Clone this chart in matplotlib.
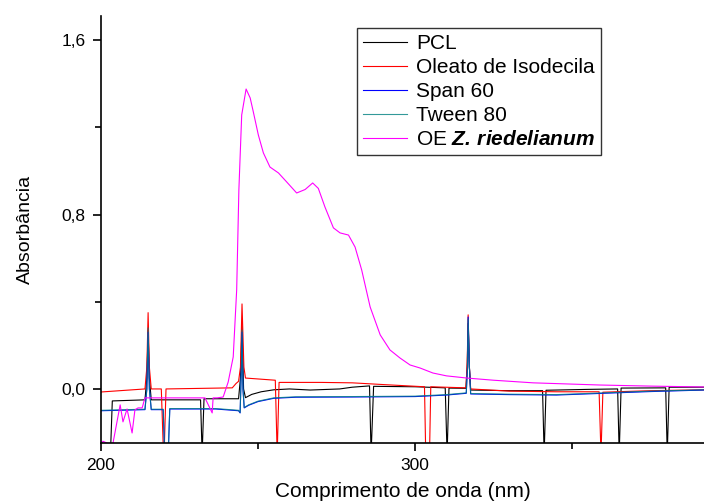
import matplotlib
matplotlib.use("Agg")
import matplotlib.pyplot as plt
from matplotlib.ticker import FixedLocator, FuncFormatter

plt.rcParams["font.family"] = ["Liberation Sans", "DejaVu Sans"]
plt.rcParams["mathtext.fontset"] = "custom"
plt.rcParams["mathtext.rm"] = "Liberation Sans"
plt.rcParams["mathtext.it"] = "Liberation Sans:italic"
plt.rcParams["mathtext.bf"] = "Liberation Sans:bold"
plt.rcParams["mathtext.bfit"] = "Liberation Sans:bold:italic"

# PCL
pcl_wl = [200, 203.0, 203.6, 214.0, 214.6, 215.0, 215.4, 216.0, 231.7, 232.2, 232.8,
          243.8, 244.4, 244.9, 245.4, 246.0, 248.0, 251.0, 255.0, 260.0, 266.6, 276.0,
          280.0, 285.5, 286.0, 286.8, 300.0, 309.6, 310.2, 310.8, 316.2, 316.6, 316.9,
          317.3, 317.7, 330.0, 340.6, 341.1, 341.7, 355.0, 364.5, 365.0, 365.6, 379.8,
          380.3, 380.9, 392.0]
pcl_abs = [-0.30, -0.30, -0.055, -0.05, 0.05, 0.27, 0.05, -0.05, -0.05, -0.30, -0.045,
           -0.045, 0.05, 0.29, 0.0, -0.04, -0.025, -0.013, -0.004, 0.0, -0.005, 0.0,
           0.008, 0.014, -0.30, 0.012, 0.01, 0.005, -0.30, 0.004, 0.003, 0.10, 0.30,
           0.10, -0.005, -0.008, -0.008, -0.30, -0.006, -0.002, 0.0, -0.30, 0.004, 0.005,
           -0.30, 0.008, 0.008]

# Oleato de Isodecila
ole_wl = [200, 214.0, 214.6, 215.0, 215.4, 216.0, 219.2, 219.9, 220.1, 220.7, 241.8,
          243.0, 243.8, 244.4, 244.9, 245.5, 246.0, 255.5, 256.1, 256.7, 270.0, 280.0,
          290.0, 303.0, 303.4, 304.6, 305.0, 316.2, 316.6, 316.9, 317.3, 317.7, 330.0,
          345.0, 358.6, 359.2, 359.8, 375.0, 392.0]
ole_abs = [-0.014, 0.0, 0.10, 0.35, 0.10, 0.0, 0.0, -0.30, -0.30, 0.0, 0.005,
           0.025, 0.035, 0.10, 0.39, 0.10, 0.05, 0.04, -0.30, 0.03, 0.03, 0.028,
           0.02, 0.01, -0.30, -0.30, 0.01, 0.005, 0.12, 0.34, 0.10, 0.0, -0.01,
           -0.013, -0.013, -0.30, -0.015, -0.008, -0.004]

# Span 60
span_wl = [200, 214.0, 214.6, 215.0, 215.4, 216.0, 219.8, 220.3, 221.4, 221.9, 236.5,
           243.8, 244.3, 244.7, 244.9, 245.2, 245.6, 247.0, 250.0, 255.0, 262.0, 280.0,
           300.0, 310.0, 316.3, 316.7, 316.9, 317.3, 317.7, 330.0, 345.0, 360.0, 375.0,
           392.0]
span_abs = [-0.10, -0.095, 0.0, 0.26, 0.0, -0.095, -0.095, -0.30, -0.30, -0.092, -0.092,
            -0.10, -0.11, 0.10, 0.26, 0.0, -0.087, -0.075, -0.058, -0.043, -0.038, -0.037,
            -0.035, -0.028, -0.02, 0.10, 0.33, 0.10, -0.023, -0.026, -0.028, -0.02, -0.012,
            -0.005]

# Tween 80
tween_wl = [200, 214.0, 214.6, 215.0, 215.4, 216.0, 219.8, 220.3, 221.4, 221.9, 236.5,
            243.8, 244.3, 244.7, 244.9, 245.2, 245.6, 247.0, 250.0, 255.0, 262.0, 280.0,
            300.0, 310.0, 316.3, 316.7, 316.9, 317.3, 317.7, 330.0, 345.0, 360.0, 375.0,
            392.0]
tween_abs = [-0.098, -0.093, 0.0, 0.28, 0.0, -0.093, -0.093, -0.30, -0.30, -0.09, -0.09,
             -0.098, -0.108, 0.10, 0.27, 0.0, -0.085, -0.073, -0.056, -0.041, -0.036, -0.035,
             -0.033, -0.026, -0.018, 0.10, 0.32, 0.10, -0.021, -0.024, -0.026, -0.018, -0.01,
             -0.004]

# OE Z. riedelianum
oe_wl = [200, 200.6, 202.2, 203.8, 206.1, 207.0, 208.3, 209.9, 210.8, 211.8, 213.1,
         214.0, 233.1, 235.4, 235.7, 237.0, 238.9, 240.5, 242.1, 243.2, 243.9, 244.8,
         246.2, 247.5, 248.5, 250.1, 251.7, 253.8, 256.5, 259.1, 262.3, 265.0, 267.4,
         269.2, 271.3, 274.0, 276.1, 278.8, 280.9, 283.0, 285.7, 288.9, 292.0, 295.2,
         298.4, 301.6, 305.7, 310.0, 316.5, 325.0, 337.6, 358.9, 375.0, 392.0]
oe_abs = [-0.26, -0.24, -0.25, -0.25, -0.073, -0.151, -0.092, -0.202, -0.096, -0.087, -0.087,
          -0.041, -0.041, -0.11, -0.041, -0.041, -0.037, 0.032, 0.147, 0.454, 0.913, 1.257,
          1.376, 1.335, 1.271, 1.165, 1.083, 1.018, 0.991, 0.950, 0.899, 0.915, 0.945,
          0.92, 0.835, 0.739, 0.716, 0.706, 0.651, 0.546, 0.376, 0.248, 0.179, 0.142,
          0.11, 0.096, 0.073, 0.06, 0.05, 0.04, 0.028, 0.018, 0.013, 0.009]

fig = plt.figure(figsize=(7.04, 5.04), dpi=100)
ax = fig.add_axes([101 / 704, 61 / 504, 603 / 704, 427 / 504])

lw = 0.8
ax.plot(pcl_wl, pcl_abs, color="black", lw=lw, label="PCL")
ax.plot(ole_wl, ole_abs, color="red", lw=lw, label="Oleato de Isodecila")
ax.plot(span_wl, span_abs, color="#0000ff", lw=lw, label="Span 60")
ax.plot(tween_wl, tween_abs, color="#008080", lw=lw, alpha=0.8, label="Tween 80")
ax.plot(oe_wl, oe_abs, color="#ff00ff", lw=lw, label=r"OE $\mathbfit{Z.\,riedelianum}$")

ax.set_xlim(200, 392)
ax.set_ylim(-0.248, 1.711)

for side in ("top", "right"):
    ax.spines[side].set_visible(False)
for side in ("left", "bottom"):
    ax.spines[side].set_linewidth(1.2)

ax.xaxis.set_major_locator(FixedLocator([200, 300]))
ax.xaxis.set_minor_locator(FixedLocator([250, 350]))
ax.yaxis.set_major_locator(FixedLocator([0.0, 0.8, 1.6]))
ax.yaxis.set_minor_locator(FixedLocator([0.4, 1.2]))
ax.yaxis.set_major_formatter(FuncFormatter(lambda v, p: f"{v:.1f}".replace(".", ",")))
ax.tick_params(which="major", length=6, width=1.2, labelsize=12.5, pad=5)
ax.tick_params(which="minor", length=4, width=1.2)

ax.set_xlabel("Comprimento de onda (nm)", fontsize=15, labelpad=6)
ax.set_ylabel("Absorbância", fontsize=14, labelpad=20)

leg = ax.legend(loc="upper left", bbox_to_anchor=((357 - 101) / 603, (443 - 28) / 427),
                borderaxespad=0, fontsize=15, frameon=True, fancybox=False,
                edgecolor="black", handlelength=2.1, handletextpad=0.45,
                labelspacing=0.24, borderpad=0.28)
leg.get_frame().set_linewidth(1.0)

fig.savefig("out.png", dpi=100)
